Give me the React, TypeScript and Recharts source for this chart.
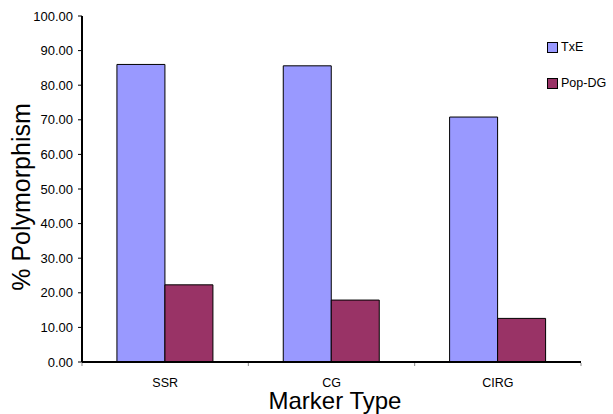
import React from 'react';
import { BarChart, Bar, XAxis, YAxis } from 'recharts';

const markers = ['SSR', 'CG', 'CIRG'];
const txe = [86.0, 85.6, 70.8];
const popDg = [22.3, 17.9, 12.6];
const yTicks = [0, 10, 20, 30, 40, 50, 60, 70, 80, 90, 100];

const data = markers.map((name, i) => ({ name, txe: txe[i], popDg: popDg[i] }));

const series = [
  { key: 'txe', label: 'TxE', color: '#9999FF' },
  { key: 'popDg', label: 'Pop-DG', color: '#993366' },
];

const font = '"Liberation Sans", Arial, sans-serif';
const labelMargin = 10;

// legend sits inside the plot, top right, so it is kept outside recharts' layout
const LegendBox = () => (
  <div style={{ position: 'absolute', left: 547, top: 39, fontFamily: font, fontSize: 12.5, color: '#000' }}>
    {series.map((s) => (
      <div key={s.key} style={{ display: 'flex', alignItems: 'center', height: 16, marginBottom: 20 }}>
        <span style={{ width: 9, height: 9, background: s.color, border: '1px solid #000', marginRight: 3 }} />
        <span>{s.label}</span>
      </div>
    ))}
  </div>
);

// category label plus the small tick marks that sit between categories
const CategoryTick = (props: any) => {
  const { x, y, payload, index, visibleTicksCount } = props;
  const half = payload?.offset ?? 0;
  const axisY = y - labelMargin - 6;
  const last = index === (visibleTicksCount ?? markers.length) - 1;
  return (
    <g>
      {half > 0 && <line x1={x - half} x2={x - half} y1={axisY + 1} y2={axisY + 4} stroke="#888" />}
      {half > 0 && last && <line x1={x + half} x2={x + half} y1={axisY + 1} y2={axisY + 4} stroke="#888" />}
      <text x={x} y={y} dy="0.71em" textAnchor="middle" fontSize={12.5} fontFamily={font} fill="#000">
        {payload.value}
      </text>
    </g>
  );
};

const App: React.FC = () => {
  return (
    <div style={{ position: 'absolute', left: 0, top: 0, width: 613, height: 414, background: '#fff' }}>
      <BarChart
        width={613}
        height={414}
        data={data}
        margin={{ top: 16, right: 32, bottom: 22, left: 20 }}
        barCategoryGap="21%"
        barGap={0}
      >
        <XAxis
          dataKey="name"
          tickLine={false}
          axisLine={{ stroke: '#000', strokeWidth: 2 }}
          tick={<CategoryTick />}
          tickMargin={labelMargin}
          height={30}
          label={{
            content: () => (
              <text x={335} y={409} textAnchor="middle" fontSize={24} fontFamily={font} fill="#000">
                Marker Type
              </text>
            ),
          }}
        />
        <YAxis
          domain={[0, 100]}
          ticks={yTicks}
          interval={0}
          width={62}
          tickFormatter={(v: number) => v.toFixed(2)}
          tick={{ fill: '#000', fontSize: 13, fontFamily: font }}
          tickSize={4}
          tickMargin={5}
          tickLine={{ stroke: '#000' }}
          axisLine={{ stroke: '#000', strokeWidth: 2 }}
          label={{
            content: () => (
              <text
                x={30}
                y={197}
                transform="rotate(-90 30 197)"
                textAnchor="middle"
                fontSize={25}
                fontFamily={font}
                fill="#000"
              >
                % Polymorphism
              </text>
            ),
          }}
        />
        {series.map((s) => (
          <Bar
            key={s.key}
            dataKey={s.key}
            name={s.label}
            fill={s.color}
            stroke="#000"
            strokeWidth={1}
            isAnimationActive={false}
          />
        ))}
      </BarChart>
      <LegendBox />
    </div>
  );
};

export default App;
